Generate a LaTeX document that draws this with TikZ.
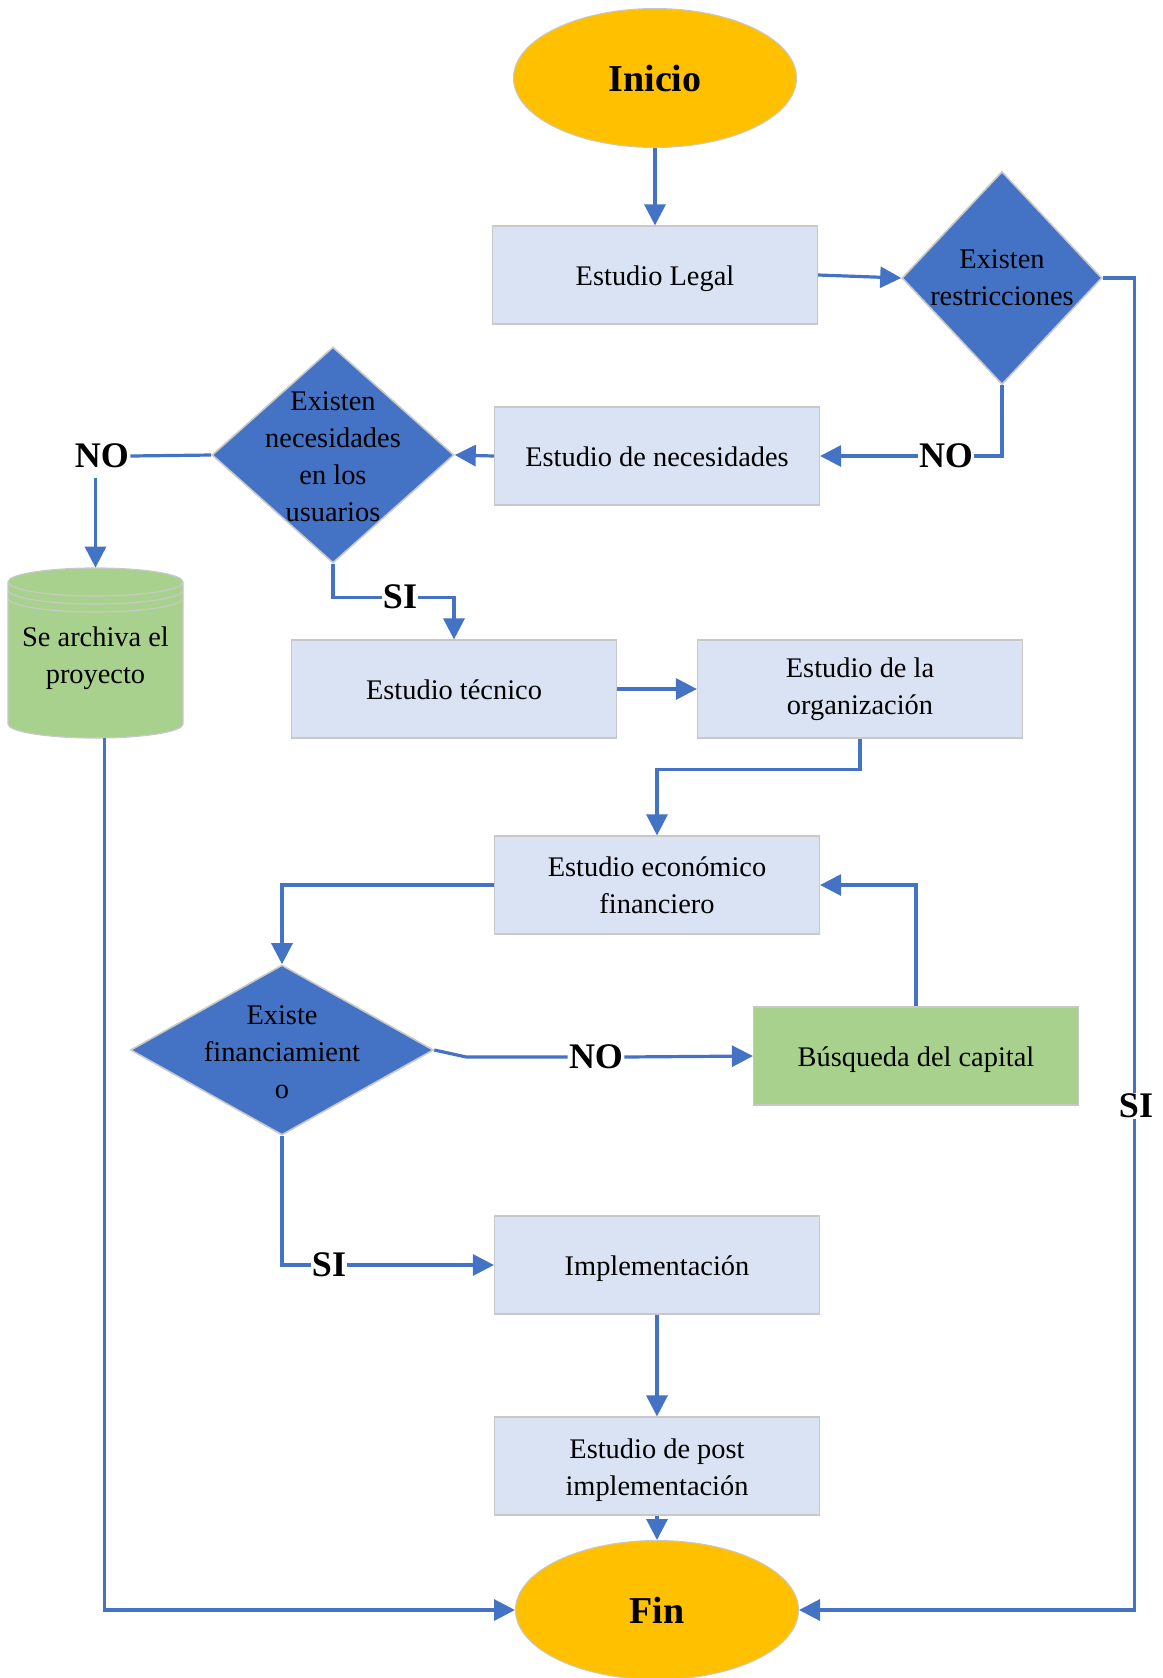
\documentclass[tikz,border=0pt]{standalone}
\usepackage{fontspec}
\setmainfont{Liberation Serif}
\usetikzlibrary{shapes.geometric,arrows.meta}
\definecolor{lineblue}{HTML}{4472C4}
\definecolor{boxfill}{HTML}{DAE3F3}
\definecolor{boxline}{HTML}{C8C8C8}
\definecolor{ovalfill}{HTML}{FFC000}
\definecolor{greenfill}{HTML}{A9D18E}
\tikzset{
 txt/.style={font=\fontsize{14.2}{18.5}\selectfont, align=center},
 stepbox/.style={rectangle, fill=boxfill, draw=boxline, line width=0.6pt, minimum width=162.5pt, minimum height=49pt, inner sep=0pt, txt},
 oneline/.style={text height=10pt, text depth=0pt},
 greenbox/.style={stepbox, fill=greenfill},
 oval/.style={ellipse, fill=ovalfill, draw=boxline, line width=0.5pt, minimum width=141.5pt, minimum height=69.5pt, inner sep=0pt, font=\fontsize{19}{22}\selectfont\bfseries},
 decision/.style={diamond, fill=lineblue, draw=boxline, line width=0.8pt, inner sep=0pt},
 dtext/.style={txt, inner sep=0pt},
 flow/.style={draw=lineblue, line width=1.6pt, -{Triangle[width=10.5pt,length=10.5pt]}},
 plain/.style={draw=lineblue, line width=1.6pt},
 lbl/.style={font=\fontsize{18}{20}\selectfont\bfseries, fill=white, inner sep=0.5pt},
}
\begin{document}
\begin{tikzpicture}[x=0.5pt,y=-0.5pt]
\useasboundingbox (0,0) rectangle (1163,1678);

% nodes
\node[oval] (inicio) at (655,78) {Inicio};
\node[stepbox, oneline] (legal) at (655,275) {Estudio Legal};
\node[decision, minimum width=100pt, minimum height=106.5pt] (d1) at (1002,278) {};
\node[dtext] (d1t) at (d1) {Existen\\restricciones};
\node[stepbox, oneline] (neces) at (657,456) {Estudio de necesidades};
\node[decision, minimum width=121pt, minimum height=108pt] (d2) at (333,455) {};
\node[dtext] (d2t) at (333,457) {Existen\\necesidades\\en los\\usuarios};

% cylinder
\fill[greenfill] (8,582) -- (8,724) arc[start angle=180, end angle=360, x radius=43.75pt, y radius=7pt]
  -- (183,582) arc[start angle=0, end angle=180, x radius=43.75pt, y radius=7pt] -- cycle;
\draw[boxline, line width=0.6pt] (8,582) -- (8,724) arc[start angle=180, end angle=360, x radius=43.75pt, y radius=7pt]
  -- (183,582) arc[start angle=0, end angle=180, x radius=43.75pt, y radius=7pt];
\draw[boxline, line width=0.6pt] (8,582) arc[start angle=180, end angle=360, x radius=43.75pt, y radius=7pt];
\draw[boxline, line width=0.6pt] (8,590) arc[start angle=180, end angle=360, x radius=43.75pt, y radius=7pt];
\draw[boxline, line width=0.6pt] (8,598) arc[start angle=180, end angle=360, x radius=43.75pt, y radius=7pt];
\node[rectangle, minimum width=87.5pt, minimum height=85pt, inner sep=0pt, txt] (cyl) at (95.5,653) {};
\node[dtext] (cylt) at (95.5,658) {Se archiva el\\proyecto};

\node[stepbox, oneline] (tecnico) at (454,689) {Estudio técnico};
\node[stepbox] (organiz) at (860,689) {Estudio de la\\organización};
\node[stepbox] (econ) at (657,885) {Estudio económico\\financiero};
\node[decision, minimum width=151.5pt, minimum height=85pt] (d3) at (282,1050) {};
\node[dtext] (d3t) at (282,1052) {Existe\\financiamient\\o};
\node[greenbox, oneline] (busq) at (916,1056) {Búsqueda del capital};
\node[stepbox, oneline] (impl) at (657,1265) {Implementación};
\node[stepbox] (post) at (657,1466) {};
\node[dtext] (postt) at (657,1470) {Estudio de post\\implementación};
\node[oval] (fin) at (657,1610) {Fin};

% labels
\node[lbl] (no1) at (946,456) {NO};
\node[lbl] (no2) at (102,456) {NO};
\node[lbl] (no3) at (596,1057) {NO};

% connectors
\draw[flow] (inicio.south) -- (legal.north);
\draw[flow] (legal.east) -- (d1.west);
\draw[plain] (d1.south) |- (no1.east);
\draw[flow] (no1.west) -- (neces.east);
\draw[flow] (neces.west) -- (d2.east);
\draw[plain] (d2.west) -- (no2.east);
\draw[flow] (no2.south -| cyl.north) ++(0,8) -- (cyl.north);
\draw[flow] (d2.south) -- ++(0,34) -| (tecnico.north);
\draw[flow] (tecnico.east) -- (organiz.west);
\draw[flow] (organiz.south) -- ++(0,31) -| (econ.north);
\draw[flow] (econ.west) -| (d3.north);
\draw[plain] (d3.east) -- ++(32,7) -- (no3.west);
\draw[flow] (no3.east) -- (busq.west);
\draw[flow] (busq.north) |- (econ.east);
\draw[flow] (d3.south) |- (impl.west);
\draw[flow] (impl.south) -- (post.north);
\draw[flow] (post.south) -- (fin.north);
\draw[flow] ([xshift=4.5pt]cyl.south) |- (fin.west);
\draw[flow] (d1.east) -- ++(32,0) |- (fin.east);

% labels on top of lines
\node[lbl] (si1) at (400,597) {SI};
\node[lbl] (si2) at (329,1265) {SI};
\node[lbl] (si3) at (1136,1106) {SI};
\end{tikzpicture}
\end{document}
